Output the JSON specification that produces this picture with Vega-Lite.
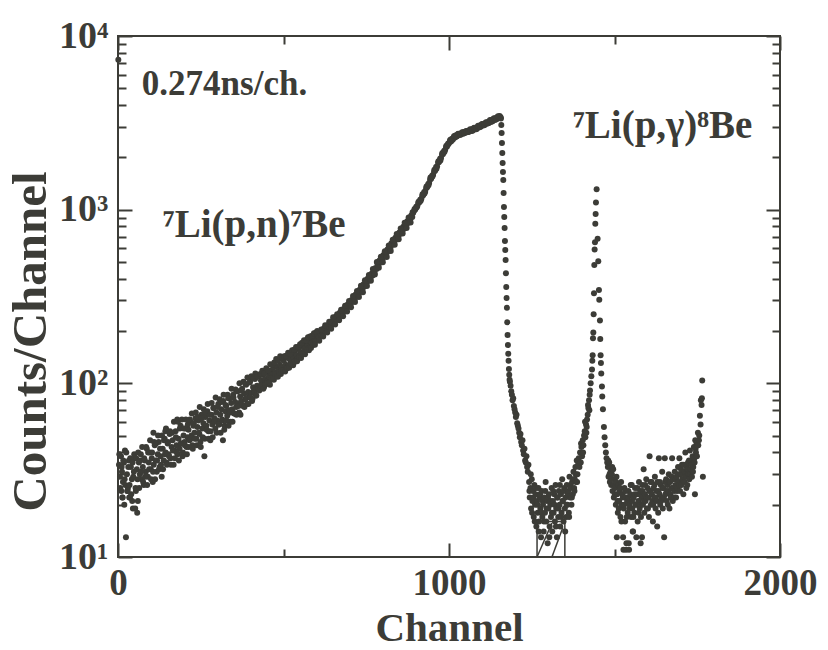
{
 "$schema": "https://vega.github.io/schema/vega-lite/v6.json",
 "width": 662, "height": 521,
 "autosize": {"type": "none"},
 "padding": {"left": 118, "top": 36, "right": 48, "bottom": 93},
 "background": "white",
 "config": {
  "view": {"stroke": "#3c3c37", "strokeWidth": 2},
  "axis": {"domain": false, "grid": false, "ticks": true, "tickColor": "#3c3c37", "tickWidth": 2,
   "labelFont": "Liberation Serif", "labelFontWeight": "bold", "labelColor": "#3c3c37",
   "titleFont": "Liberation Serif", "titleFontWeight": "bold", "titleColor": "#3c3c37",
   "labelOverlap": false, "labelFlush": false, "labelBound": false}
 },
 "resolve": {"axis": {"x": "independent", "y": "independent"}},
 "layer": [
  {
   "data": {"values": [
{"c":1,"n":7300},{"c":3,"n":34},{"c":6,"n":29},{"c":9,"n":38},{"c":10,"n":24},{"c":12,"n":31},{"c":14,"n":22},{"c":15,"n":27},{"c":18,"n":35},{"c":19,"n":20},{"c":21,"n":41},{"c":22,"n":26},{"c":24,"n":13},{"c":27,"n":30},{"c":28,"n":24},{"c":30,"n":25},{"c":33,"n":36},{"c":34,"n":22},{"c":36,"n":22},{"c":39,"n":33},{"c":42,"n":28},{"c":43,"n":21},{"c":45,"n":19},{"c":48,"n":31},{"c":51,"n":37},{"c":52,"n":19},{"c":54,"n":24},{"c":57,"n":32},{"c":58,"n":18},{"c":60,"n":21},{"c":63,"n":35},{"c":66,"n":30},{"c":69,"n":39},{"c":72,"n":28},{"c":75,"n":33},{"c":78,"n":26},{"c":81,"n":36},{"c":84,"n":31},{"c":87,"n":42},{"c":90,"n":29},{"c":93,"n":35},{"c":96,"n":40},{"c":99,"n":32},{"c":102,"n":37},{"c":105,"n":27},{"c":107,"n":52},{"c":108,"n":34},{"c":111,"n":44},{"c":114,"n":36},{"c":117,"n":31},{"c":120,"n":39},{"c":123,"n":46},{"c":126,"n":33},{"c":129,"n":38},{"c":132,"n":29},{"c":135,"n":42},{"c":138,"n":36},{"c":141,"n":48},{"c":143,"n":53},{"c":144,"n":40},{"c":147,"n":35},{"c":150,"n":45},{"c":153,"n":39},{"c":156,"n":51},{"c":159,"n":37},{"c":162,"n":43},{"c":165,"n":47},{"c":168,"n":34},{"c":171,"n":41},{"c":174,"n":53},{"c":177,"n":44},{"c":179,"n":62},{"c":180,"n":39},{"c":183,"n":48},{"c":186,"n":42},{"c":189,"n":57},{"c":192,"n":45},{"c":195,"n":38},{"c":198,"n":50},{"c":201,"n":46},{"c":204,"n":55},{"c":207,"n":43},{"c":210,"n":49},
{"c":4,"n":39},{"c":7,"n":25},{"c":11,"n":33},{"c":13,"n":22},{"c":16,"n":36},{"c":20,"n":28},{"c":25,"n":40},{"c":29,"n":24},{"c":31,"n":33},{"c":35,"n":26},{"c":37,"n":37},{"c":40,"n":23},{"c":44,"n":35},{"c":46,"n":29},{"c":49,"n":39},{"c":53,"n":25},{"c":55,"n":37},{"c":59,"n":28},{"c":61,"n":40},{"c":64,"n":25},{"c":67,"n":36},{"c":70,"n":31},{"c":73,"n":43},{"c":76,"n":27},{"c":79,"n":37},{"c":82,"n":29},{"c":85,"n":43},{"c":88,"n":26},{"c":91,"n":40},{"c":94,"n":32},{"c":97,"n":47},{"c":100,"n":28},{"c":103,"n":40},{"c":106,"n":31},{"c":109,"n":46},{"c":112,"n":28},{"c":115,"n":45},{"c":118,"n":36},{"c":121,"n":50},{"c":124,"n":32},{"c":127,"n":42},{"c":130,"n":34},{"c":133,"n":50},{"c":136,"n":32},{"c":139,"n":47},{"c":142,"n":39},{"c":145,"n":55},{"c":148,"n":34},{"c":151,"n":46},{"c":154,"n":38},{"c":157,"n":53},{"c":160,"n":34},{"c":163,"n":52},{"c":166,"n":41},{"c":169,"n":60},{"c":172,"n":37},{"c":175,"n":49},{"c":178,"n":40},{"c":181,"n":60},{"c":184,"n":36},{"c":187,"n":55},{"c":190,"n":45},{"c":193,"n":62},{"c":196,"n":40},{"c":199,"n":55},{"c":202,"n":44},{"c":205,"n":62},{"c":208,"n":39},{"c":211,"n":58},
{"c":213,"n":54},{"c":216,"n":47},{"c":219,"n":60},{"c":222,"n":50},{"c":225,"n":44},{"c":228,"n":57},{"c":231,"n":52},{"c":234,"n":63},{"c":237,"n":48},{"c":240,"n":56},{"c":243,"n":61},{"c":246,"n":51},{"c":249,"n":46},{"c":252,"n":66},{"c":255,"n":55},{"c":258,"n":59},{"c":261,"n":38},{"c":264,"n":64},{"c":267,"n":57},{"c":270,"n":69},{"c":273,"n":53},{"c":276,"n":61},{"c":279,"n":47},{"c":282,"n":66},{"c":285,"n":58},{"c":288,"n":72},{"c":291,"n":63},{"c":294,"n":55},{"c":297,"n":68},{"c":300,"n":61},{"c":303,"n":76},{"c":306,"n":58},{"c":309,"n":66},{"c":312,"n":71},{"c":315,"n":62},{"c":317,"n":47},{"c":318,"n":79},{"c":321,"n":54},{"c":324,"n":69},{"c":327,"n":74},{"c":330,"n":65},{"c":333,"n":82},{"c":336,"n":70},{"c":339,"n":60},{"c":342,"n":77},{"c":345,"n":71},{"c":348,"n":86},{"c":351,"n":67},{"c":354,"n":78},{"c":357,"n":73},{"c":360,"n":90},{"c":363,"n":76},{"c":366,"n":68},{"c":369,"n":84},{"c":372,"n":79},{"c":375,"n":93},{"c":378,"n":74},{"c":381,"n":87},{"c":384,"n":81},{"c":387,"n":98},{"c":390,"n":76},{"c":393,"n":89},{"c":396,"n":84},{"c":399,"n":102},{"c":402,"n":88},{"c":405,"n":79},{"c":408,"n":95},{"c":411,"n":91},{"c":414,"n":106},{"c":417,"n":85},{"c":420,"n":97},{"c":423,"n":93},{"c":426,"n":110},
{"c":214,"n":43},{"c":217,"n":62},{"c":220,"n":48},{"c":223,"n":67},{"c":226,"n":42},{"c":229,"n":59},{"c":232,"n":48},{"c":235,"n":68},{"c":238,"n":44},{"c":241,"n":64},{"c":244,"n":52},{"c":247,"n":73},{"c":250,"n":43},{"c":253,"n":63},{"c":256,"n":49},{"c":259,"n":71},{"c":262,"n":48},{"c":265,"n":68},{"c":268,"n":54},{"c":271,"n":76},{"c":274,"n":48},{"c":277,"n":66},{"c":280,"n":53},{"c":283,"n":77},{"c":286,"n":49},{"c":289,"n":72},{"c":292,"n":60},{"c":295,"n":83},{"c":298,"n":52},{"c":301,"n":73},{"c":304,"n":58},{"c":307,"n":81},{"c":310,"n":52},{"c":313,"n":78},{"c":316,"n":61},{"c":319,"n":86},{"c":322,"n":57},{"c":325,"n":75},{"c":328,"n":61},{"c":331,"n":86},{"c":334,"n":57},{"c":337,"n":82},{"c":340,"n":68},{"c":343,"n":93},{"c":346,"n":60},{"c":349,"n":83},{"c":352,"n":67},{"c":355,"n":92},{"c":358,"n":66},{"c":361,"n":90},{"c":364,"n":74},{"c":367,"n":100},{"c":370,"n":66},{"c":373,"n":91},{"c":376,"n":75},{"c":379,"n":102},{"c":382,"n":73},{"c":385,"n":99},{"c":388,"n":82},{"c":391,"n":108},{"c":394,"n":76},{"c":397,"n":101},{"c":400,"n":83},{"c":403,"n":110},{"c":406,"n":81},{"c":409,"n":107},{"c":412,"n":88},{"c":415,"n":114},{"c":418,"n":85},{"c":421,"n":109},{"c":424,"n":93},
{"c":429,"n":96},{"c":432,"n":104},{"c":435,"n":99},{"c":438,"n":112},{"c":441,"n":95},{"c":444,"n":106},{"c":447,"n":101},{"c":450,"n":117},{"c":453,"n":103},{"c":456,"n":110},{"c":459,"n":98},{"c":462,"n":114},{"c":465,"n":108},{"c":468,"n":121},{"c":471,"n":105},{"c":474,"n":116},{"c":477,"n":111},{"c":480,"n":125},{"c":483,"n":109},{"c":486,"n":119},{"c":489,"n":128},{"c":492,"n":113},{"c":495,"n":124},{"c":498,"n":118},{"c":501,"n":135},{"c":504,"n":120},{"c":507,"n":128},{"c":510,"n":123},{"c":513,"n":141},{"c":516,"n":126},{"c":519,"n":137},{"c":522,"n":131},{"c":525,"n":146},{"c":528,"n":129},{"c":531,"n":140},{"c":534,"n":150},{"c":537,"n":136},{"c":540,"n":145},{"c":543,"n":139},{"c":546,"n":157},{"c":549,"n":143},{"c":552,"n":151},{"c":555,"n":147},{"c":558,"n":163},{"c":561,"n":150},{"c":564,"n":158},{"c":567,"n":171},{"c":570,"n":155},{"c":573,"n":165},{"c":576,"n":160},{"c":579,"n":176},{"c":582,"n":163},{"c":585,"n":171},{"c":588,"n":182},{"c":591,"n":168},{"c":594,"n":180},{"c":597,"n":175},{"c":600,"n":191},
{"c":427,"n":91},{"c":430,"n":113},{"c":433,"n":97},{"c":436,"n":118},{"c":439,"n":93},{"c":442,"n":114},{"c":445,"n":98},{"c":448,"n":122},{"c":451,"n":100},{"c":454,"n":119},{"c":457,"n":101},{"c":460,"n":129},{"c":463,"n":107},{"c":466,"n":128},{"c":469,"n":107},{"c":472,"n":132},{"c":475,"n":113},{"c":478,"n":138},{"c":481,"n":110},{"c":484,"n":136},{"c":487,"n":116},{"c":490,"n":143},{"c":493,"n":118},{"c":496,"n":141},{"c":499,"n":119},{"c":502,"n":143},{"c":505,"n":117},{"c":508,"n":144},{"c":511,"n":122},{"c":514,"n":150},{"c":517,"n":123},{"c":520,"n":148},{"c":523,"n":129},{"c":526,"n":155},{"c":529,"n":127},{"c":532,"n":156},{"c":535,"n":133},{"c":538,"n":162},{"c":541,"n":134},{"c":544,"n":162},{"c":547,"n":142},{"c":550,"n":168},{"c":553,"n":140},{"c":556,"n":171},{"c":559,"n":147},{"c":562,"n":177},{"c":565,"n":147},{"c":568,"n":177},{"c":571,"n":155},{"c":574,"n":184},{"c":577,"n":155},{"c":580,"n":186},{"c":583,"n":160},{"c":586,"n":188},{"c":589,"n":166},{"c":592,"n":194},{"c":595,"n":167},{"c":598,"n":196},
{"c":604,"n":190},{"c":607,"n":184},{"c":610,"n":196},{"c":613,"n":192},{"c":616,"n":201},{"c":619,"n":195},{"c":622,"n":207},{"c":625,"n":200},{"c":628,"n":212},{"c":631,"n":205},{"c":634,"n":216},{"c":637,"n":210},{"c":640,"n":223},{"c":643,"n":215},{"c":646,"n":228},{"c":649,"n":220},{"c":652,"n":235},{"c":655,"n":227},{"c":658,"n":242},{"c":661,"n":233},{"c":664,"n":246},{"c":667,"n":240},{"c":670,"n":255},{"c":673,"n":247},{"c":676,"n":262},{"c":679,"n":254},{"c":682,"n":268},{"c":685,"n":260},{"c":688,"n":277},{"c":691,"n":270},{"c":694,"n":284},{"c":697,"n":278},{"c":700,"n":294},{"c":703,"n":286},{"c":706,"n":302},{"c":709,"n":296},{"c":712,"n":314},{"c":715,"n":305},{"c":718,"n":325},{"c":721,"n":316},{"c":724,"n":334},{"c":727,"n":327},{"c":730,"n":346},{"c":733,"n":338},{"c":736,"n":358},{"c":739,"n":350},{"c":742,"n":372},{"c":745,"n":362},{"c":748,"n":386},{"c":751,"n":378},{"c":754,"n":400},{"c":757,"n":390},{"c":760,"n":413},{"c":763,"n":404},{"c":766,"n":428},{"c":769,"n":418},{"c":772,"n":442},{"c":775,"n":433},{"c":778,"n":462},{"c":781,"n":455},{"c":784,"n":488},{"c":787,"n":478},{"c":790,"n":510},{"c":793,"n":500},{"c":796,"n":524},{"c":799,"n":515},{"c":802,"n":548},{"c":805,"n":538},{"c":808,"n":568},{"c":811,"n":558},{"c":814,"n":590},{"c":817,"n":578},{"c":820,"n":615},{"c":823,"n":602},{"c":826,"n":640},{"c":829,"n":628},{"c":832,"n":665},{"c":835,"n":652},{"c":838,"n":690},{"c":841,"n":676},{"c":844,"n":712},{"c":847,"n":698},{"c":850,"n":740},{"c":853,"n":726},{"c":856,"n":768},{"c":859,"n":752},{"c":862,"n":796},{"c":865,"n":780},{"c":868,"n":826},{"c":871,"n":812},{"c":874,"n":858},{"c":877,"n":842},{"c":880,"n":890},{"c":883,"n":875},{"c":886,"n":925},{"c":889,"n":908},{"c":892,"n":960},
{"c":602,"n":200},{"c":608,"n":176},{"c":614,"n":204},{"c":620,"n":186},{"c":626,"n":216},{"c":632,"n":196},{"c":638,"n":226},{"c":644,"n":206},{"c":650,"n":240},{"c":656,"n":218},{"c":662,"n":250},{"c":668,"n":231},{"c":674,"n":265},{"c":680,"n":243},{"c":686,"n":280},{"c":692,"n":259},{"c":698,"n":298},{"c":704,"n":274},{"c":710,"n":318},{"c":716,"n":294},{"c":722,"n":340},{"c":728,"n":314},{"c":734,"n":365},{"c":740,"n":335},{"c":746,"n":392},{"c":752,"n":363},{"c":758,"n":421},{"c":764,"n":390},{"c":770,"n":455},{"c":776,"n":423},{"c":782,"n":499},{"c":788,"n":463},{"c":794,"n":535},{"c":800,"n":498},{"c":806,"n":577},{"c":812,"n":534},{"c":818,"n":622},{"c":824,"n":578},{"c":830,"n":672},{"c":836,"n":627},{"c":842,"n":725},{"c":848,"n":676},{"c":854,"n":779},{"c":860,"n":730},{"c":866,"n":840},{"c":872,"n":784},{"c":878,"n":900},{"c":884,"n":843},{"c":890,"n":965},
{"c":895,"n":990},{"c":898,"n":1002},{"c":901,"n":1040},{"c":904,"n":1045},{"c":907,"n":1088},{"c":910,"n":1098},{"c":913,"n":1140},{"c":916,"n":1150},{"c":919,"n":1195},{"c":922,"n":1210},{"c":925,"n":1262},{"c":928,"n":1270},{"c":931,"n":1330},{"c":934,"n":1345},{"c":937,"n":1402},{"c":940,"n":1425},{"c":943,"n":1490},{"c":946,"n":1505},{"c":949,"n":1570},{"c":952,"n":1590},{"c":955,"n":1660},{"c":958,"n":1675},{"c":961,"n":1760},{"c":964,"n":1775},{"c":967,"n":1860},{"c":970,"n":1880},{"c":973,"n":1965},{"c":976,"n":1985},{"c":979,"n":2075},{"c":982,"n":2090},{"c":985,"n":2180},{"c":988,"n":2200},{"c":991,"n":2290},{"c":994,"n":2310},{"c":997,"n":2400},{"c":1000,"n":2420},{"c":1003,"n":2490},{"c":1006,"n":2470},{"c":1009,"n":2560},{"c":1012,"n":2540},{"c":1015,"n":2630},{"c":1018,"n":2600},{"c":1021,"n":2680},{"c":1024,"n":2650},{"c":1027,"n":2720},{"c":1030,"n":2690},{"c":1033,"n":2740},{"c":1036,"n":2710},{"c":1039,"n":2770},{"c":1042,"n":2740},{"c":1045,"n":2800},{"c":1048,"n":2770},{"c":1051,"n":2820},{"c":1054,"n":2790},{"c":1057,"n":2850},{"c":1060,"n":2810},{"c":1063,"n":2870},{"c":1066,"n":2840},{"c":1069,"n":2900},{"c":1072,"n":2860},{"c":1075,"n":2930},{"c":1078,"n":2900},{"c":1081,"n":2960},{"c":1084,"n":2920},{"c":1087,"n":3000},{"c":1090,"n":2970},{"c":1093,"n":3050},{"c":1096,"n":3010},{"c":1099,"n":3090},{"c":1102,"n":3050},{"c":1105,"n":3120},{"c":1108,"n":3080},{"c":1111,"n":3160},{"c":1114,"n":3120},{"c":1117,"n":3200},{"c":1120,"n":3160},{"c":1123,"n":3240},{"c":1126,"n":3200},{"c":1129,"n":3290},{"c":1132,"n":3240},{"c":1135,"n":3330},{"c":1138,"n":3280},{"c":1141,"n":3370},{"c":1144,"n":3330},{"c":1147,"n":3420},{"c":1150,"n":3380},{"c":1153,"n":3460},{"c":1156,"n":3400},
{"c":896,"n":1010},{"c":902,"n":1030},{"c":908,"n":1110},{"c":914,"n":1120},{"c":920,"n":1225},{"c":926,"n":1240},{"c":932,"n":1360},{"c":938,"n":1380},{"c":944,"n":1530},{"c":950,"n":1550},{"c":956,"n":1700},{"c":962,"n":1720},{"c":968,"n":1900},{"c":974,"n":1920},{"c":980,"n":2120},{"c":986,"n":2150},{"c":992,"n":2330},{"c":998,"n":2380},{"c":1004,"n":2530},{"c":1010,"n":2520},{"c":1016,"n":2660},{"c":1022,"n":2640},{"c":1028,"n":2740},{"c":1034,"n":2700},{"c":1040,"n":2790},{"c":1046,"n":2750},{"c":1052,"n":2840},{"c":1058,"n":2800},{"c":1064,"n":2900},{"c":1070,"n":2850},{"c":1076,"n":2960},{"c":1082,"n":2900},{"c":1088,"n":3040},{"c":1094,"n":2990},{"c":1100,"n":3110},{"c":1106,"n":3060},{"c":1112,"n":3190},{"c":1118,"n":3140},{"c":1124,"n":3280},{"c":1130,"n":3220},{"c":1136,"n":3360},{"c":1142,"n":3300},{"c":1148,"n":3450},
{"c":1157,"n":3350},{"c":1158,"n":3076},{"c":1159,"n":2760},{"c":1160,"n":2420},{"c":1161,"n":2120},{"c":1162,"n":1857},{"c":1163,"n":1648},{"c":1164,"n":1482},{"c":1165,"n":1248},{"c":1166,"n":1035},{"c":1167,"n":907},{"c":1168,"n":784},{"c":1169,"n":660},{"c":1170,"n":586},{"c":1171,"n":513},{"c":1172,"n":430},{"c":1173,"n":359},{"c":1174,"n":310},{"c":1175,"n":272},{"c":1176,"n":225},{"c":1177,"n":190},{"c":1178,"n":166},{"c":1179,"n":148},{"c":1180,"n":135},{"c":1181,"n":121},{"c":1182,"n":112},{"c":1183,"n":105},
{"c":1184,"n":102},{"c":1186,"n":97},{"c":1188,"n":90},{"c":1190,"n":86},{"c":1192,"n":80},{"c":1194,"n":82},{"c":1196,"n":74},{"c":1198,"n":71},{"c":1200,"n":68},{"c":1202,"n":64},{"c":1204,"n":66},{"c":1206,"n":59},{"c":1208,"n":57},{"c":1210,"n":55},{"c":1212,"n":52},{"c":1214,"n":49},{"c":1216,"n":51},{"c":1218,"n":46},{"c":1220,"n":44},{"c":1222,"n":47},{"c":1224,"n":41},{"c":1226,"n":39},{"c":1228,"n":42},{"c":1230,"n":36},{"c":1232,"n":35},{"c":1234,"n":38},{"c":1236,"n":33},{"c":1238,"n":31},{"c":1240,"n":34},
{"c":1242,"n":27},{"c":1243,"n":24},{"c":1244,"n":22},{"c":1246,"n":25},{"c":1247,"n":30},{"c":1248,"n":19},{"c":1250,"n":28},{"c":1251,"n":18},{"c":1252,"n":21},{"c":1254,"n":24},{"c":1255,"n":22},{"c":1256,"n":17},{"c":1258,"n":26},{"c":1259,"n":16},{"c":1260,"n":20},{"c":1262,"n":23},{"c":1263,"n":25},{"c":1264,"n":15},{"c":1266,"n":21},{"c":1267,"n":20},{"c":1268,"n":18},{"c":1270,"n":25},{"c":1271,"n":14},{"c":1272,"n":16},{"c":1274,"n":22},{"c":1275,"n":23},{"c":1276,"n":19},{"c":1278,"n":13},{"c":1279,"n":18},{"c":1280,"n":24},{"c":1282,"n":17},{"c":1283,"n":21},{"c":1284,"n":20},{"c":1286,"n":14},{"c":1287,"n":16},{"c":1288,"n":22},{"c":1290,"n":18},{"c":1291,"n":24},{"c":1292,"n":27},{"c":1294,"n":16},{"c":1295,"n":19},{"c":1296,"n":21},{"c":1298,"n":12},{"c":1299,"n":22},{"c":1300,"n":19},{"c":1302,"n":23},{"c":1303,"n":13},{"c":1304,"n":15},{"c":1306,"n":20},{"c":1307,"n":21},{"c":1308,"n":17},{"c":1310,"n":25},{"c":1311,"n":18},{"c":1312,"n":14},{"c":1314,"n":21},{"c":1315,"n":24},{"c":1316,"n":18},{"c":1318,"n":23},{"c":1319,"n":20},{"c":1320,"n":16},{"c":1322,"n":26},{"c":1323,"n":15},{"c":1324,"n":19},{"c":1326,"n":13},{"c":1327,"n":22},{"c":1328,"n":22},{"c":1330,"n":17},{"c":1331,"n":19},{"c":1332,"n":24},{"c":1334,"n":20},{"c":1335,"n":26},{"c":1336,"n":15},{"c":1338,"n":23},{"c":1339,"n":17},{"c":1340,"n":18},{"c":1342,"n":28},{"c":1343,"n":21},{"c":1344,"n":21},{"c":1346,"n":16},{"c":1347,"n":24},{"c":1348,"n":25},{"c":1350,"n":19},{"c":1351,"n":14},{"c":1352,"n":22},{"c":1354,"n":17},{"c":1355,"n":20},{"c":1356,"n":26},{"c":1358,"n":20},{"c":1359,"n":23},{"c":1360,"n":24},{"c":1362,"n":18},{"c":1363,"n":17},{"c":1364,"n":29},{"c":1366,"n":22},{"c":1367,"n":26},{"c":1368,"n":25},{"c":1370,"n":20},{"c":1371,"n":22},{"c":1372,"n":27},{"c":1374,"n":23},{"c":1375,"n":28},{"c":1376,"n":31},{"c":1378,"n":25},{"c":1379,"n":24},{"c":1380,"n":28},{"c":1382,"n":33},{"c":1383,"n":30},{"c":1384,"n":27},{"c":1386,"n":36},{"c":1387,"n":27},{"c":1388,"n":30},{"c":1390,"n":34},
{"c":1392,"n":37},{"c":1394,"n":33},{"c":1396,"n":40},{"c":1398,"n":35},{"c":1399,"n":45},{"c":1400,"n":43},{"c":1402,"n":38},{"c":1404,"n":47},{"c":1405,"n":40},{"c":1406,"n":44},{"c":1408,"n":50},{"c":1410,"n":53},{"c":1411,"n":60},{"c":1412,"n":49},{"c":1414,"n":58},{"c":1415,"n":52},{"c":1416,"n":56},{"c":1417,"n":62},{"c":1419,"n":66},{"c":1420,"n":75},{"c":1421,"n":72},{"c":1423,"n":80},{"c":1424,"n":70},{"c":1425,"n":86},{"c":1426,"n":91},{"c":1428,"n":100},{"c":1430,"n":110},{"c":1432,"n":120},{"c":1433,"n":135},{"c":1434,"n":145},{"c":1435,"n":182},{"c":1436,"n":196},{"c":1437,"n":250},{"c":1438,"n":330},{"c":1439,"n":480},{"c":1440,"n":590},{"c":1441,"n":650},{"c":1442,"n":830},{"c":1443,"n":945},{"c":1444,"n":1100},{"c":1446,"n":1310},
{"c":1449,"n":680},{"c":1451,"n":505},{"c":1453,"n":345},{"c":1454,"n":303},{"c":1456,"n":230},{"c":1457,"n":180},{"c":1458,"n":145},{"c":1459,"n":131},{"c":1460,"n":114},{"c":1462,"n":96},{"c":1463,"n":84},{"c":1465,"n":71},{"c":1468,"n":56},{"c":1470,"n":49},{"c":1472,"n":44},{"c":1474,"n":40},{"c":1476,"n":37},{"c":1478,"n":35},
{"c":1480,"n":33},{"c":1481,"n":36},{"c":1482,"n":29},{"c":1484,"n":35},{"c":1485,"n":30},{"c":1486,"n":27},{"c":1488,"n":31},{"c":1489,"n":28},{"c":1490,"n":26},{"c":1492,"n":30},{"c":1493,"n":33},{"c":1494,"n":24},{"c":1496,"n":32},{"c":1497,"n":26},{"c":1498,"n":22},{"c":1500,"n":28},{"c":1501,"n":23},{"c":1502,"n":25},{"c":1504,"n":20},{"c":1505,"n":27},{"c":1506,"n":29},{"c":1507,"n":13},{"c":1508,"n":23},{"c":1509,"n":21},{"c":1510,"n":18},{"c":1512,"n":26},{"c":1513,"n":19},{"c":1514,"n":21},{"c":1516,"n":24},{"c":1517,"n":25},{"c":1518,"n":17},{"c":1520,"n":27},{"c":1521,"n":16},{"c":1522,"n":20},{"c":1524,"n":23},{"c":1525,"n":22},{"c":1526,"n":13},{"c":1527,"n":11},{"c":1528,"n":19},{"c":1529,"n":20},{"c":1530,"n":25},{"c":1532,"n":16},{"c":1533,"n":24},{"c":1534,"n":22},{"c":1535,"n":11},{"c":1536,"n":12},{"c":1537,"n":17},{"c":1538,"n":21},{"c":1540,"n":18},{"c":1541,"n":22},{"c":1542,"n":24},{"c":1543,"n":12},{"c":1544,"n":11},{"c":1545,"n":19},{"c":1546,"n":20},{"c":1548,"n":23},{"c":1549,"n":26},{"c":1550,"n":17},{"c":1552,"n":26},{"c":1553,"n":21},{"c":1554,"n":19},{"c":1555,"n":14},{"c":1556,"n":14},{"c":1557,"n":17},{"c":1558,"n":22},{"c":1560,"n":18},{"c":1561,"n":23},{"c":1562,"n":25},{"c":1564,"n":20},{"c":1565,"n":20},{"c":1566,"n":13},{"c":1568,"n":23},{"c":1569,"n":25},{"c":1570,"n":16},{"c":1572,"n":21},{"c":1573,"n":18},{"c":1574,"n":27},{"c":1576,"n":19},{"c":1577,"n":23},{"c":1578,"n":24},{"c":1579,"n":12},{"c":1580,"n":17},{"c":1581,"n":20},{"c":1582,"n":22},{"c":1583,"n":13},{"c":1584,"n":26},{"c":1585,"n":24},{"c":1586,"n":20},{"c":1588,"n":32},{"c":1589,"n":21},{"c":1590,"n":18},{"c":1592,"n":23},{"c":1593,"n":26},{"c":1594,"n":21},{"c":1596,"n":28},{"c":1597,"n":22},{"c":1598,"n":19},{"c":1600,"n":25},{"c":1601,"n":19},{"c":1602,"n":22},{"c":1604,"n":17},{"c":1605,"n":24},{"c":1606,"n":38},{"c":1608,"n":24},{"c":1609,"n":27},{"c":1610,"n":20},{"c":1612,"n":27},{"c":1613,"n":23},{"c":1614,"n":21},{"c":1616,"n":16},{"c":1617,"n":20},{"c":1618,"n":25},{"c":1620,"n":22},{"c":1621,"n":26},{"c":1622,"n":29},{"c":1624,"n":19},{"c":1625,"n":22},{"c":1626,"n":24},{"c":1628,"n":21},{"c":1629,"n":15},{"c":1630,"n":27},{"c":1632,"n":18},{"c":1633,"n":24},{"c":1634,"n":37},{"c":1636,"n":23},{"c":1637,"n":27},{"c":1638,"n":20},{"c":1640,"n":26},{"c":1641,"n":21},{"c":1642,"n":22},{"c":1644,"n":31},{"c":1645,"n":25},{"c":1646,"n":19},{"c":1648,"n":25},{"c":1649,"n":22},{"c":1650,"n":13},{"c":1652,"n":37},{"c":1653,"n":27},{"c":1654,"n":23},{"c":1656,"n":28},{"c":1657,"n":24},{"c":1658,"n":21},{"c":1660,"n":26},{"c":1661,"n":20},{"c":1662,"n":24},{"c":1664,"n":30},{"c":1665,"n":27},{"c":1666,"n":19},{"c":1668,"n":27},{"c":1669,"n":23},{"c":1670,"n":22},{"c":1672,"n":25},{"c":1673,"n":29},{"c":1674,"n":37},{"c":1676,"n":21},{"c":1677,"n":25},{"c":1678,"n":28},{"c":1680,"n":24},{"c":1681,"n":22},{"c":1682,"n":31},{"c":1684,"n":26},{"c":1685,"n":28},{"c":1686,"n":22},{"c":1688,"n":29},{"c":1689,"n":24},{"c":1690,"n":25},{"c":1692,"n":33},{"c":1693,"n":30},{"c":1694,"n":27},{"c":1696,"n":37},{"c":1697,"n":26},{"c":1698,"n":24},{"c":1700,"n":30},{"c":1701,"n":32},{"c":1702,"n":26},{"c":1704,"n":34},{"c":1705,"n":28},{"c":1706,"n":28},{"c":1708,"n":23},{"c":1709,"n":34},{"c":1710,"n":31},{"c":1712,"n":27},{"c":1713,"n":30},{"c":1714,"n":40},{"c":1716,"n":29},{"c":1717,"n":25},{"c":1718,"n":33},{"c":1720,"n":26},{"c":1721,"n":32},{"c":1722,"n":35},{"c":1724,"n":30},{"c":1725,"n":36},{"c":1726,"n":28},{"c":1728,"n":41},{"c":1729,"n":30},{"c":1730,"n":32},{"c":1732,"n":36},{"c":1733,"n":34},{"c":1734,"n":29},{"c":1736,"n":38},{"c":1737,"n":31},{"c":1738,"n":33},{"c":1740,"n":43},{"c":1741,"n":37},{"c":1742,"n":35},{"c":1743,"n":23},{"c":1744,"n":47},{"c":1745,"n":42},{"c":1746,"n":40},{"c":1748,"n":45},{"c":1749,"n":38},{"c":1750,"n":44},{"c":1752,"n":52},{"c":1753,"n":44},{"c":1755,"n":47},{"c":1756,"n":50},{"c":1758,"n":65},{"c":1760,"n":58},{"c":1761,"n":80},{"c":1763,"n":75},{"c":1764,"n":82},{"c":1765,"n":104},{"c":1767,"n":29}
   ]},
   "mark": {"type": "circle", "size": 36, "color": "#3c3c37", "opacity": 1},
   "encoding": {
    "x": {"field": "c", "type": "quantitative", "scale": {"domain": [0, 2000], "nice": false, "zero": false},
     "axis": {"orient": "bottom", "values": [0, 1000, 2000], "format": "d", "tickSize": -14, "labelFontSize": 37, "labelPadding": 22, "title": "Channel", "titleFontSize": 41, "titleY": 83, "titleBaseline": "alphabetic"}},
    "y": {"field": "n", "type": "quantitative", "scale": {"type": "log", "domain": [10, 10000], "nice": false},
     "axis": {"orient": "left", "values": [10, 100, 1000, 10000], "tickSize": -14, "labelFontSize": 38, "labelPadding": 24,
      "labelExpr": "datum.value == 10 ? '10¹' : datum.value == 100 ? '10²' : datum.value == 1000 ? '10³' : '10⁴'",
      "title": "Counts/Channel", "titleFontSize": 49, "titleX": -73, "titleY": 305, "titleBaseline": "alphabetic"}}
   }
  },
  {
   "data": {"values": [{"c": 1266, "c2": 1350, "n": 10, "n2": 16}]},
   "mark": {"type": "rect", "fill": null, "fillOpacity": 0, "stroke": "#3c3c37", "strokeWidth": 1.5},
   "encoding": {
    "x": {"field": "c", "type": "quantitative", "scale": {"domain": [0, 2000], "nice": false, "zero": false},
     "axis": {"orient": "bottom", "values": [500, 1500], "tickSize": -8, "labels": false, "title": null}},
    "x2": {"field": "c2"},
    "y": {"field": "n", "type": "quantitative", "scale": {"type": "log", "domain": [10, 10000], "nice": false},
     "axis": {"orient": "left", "values": [20,30,40,50,60,70,80,90,200,300,400,500,600,700,800,900,2000,3000,4000,5000,6000,7000,8000,9000], "tickSize": -8, "labels": false, "title": null}},
    "y2": {"field": "n2"}
   }
  },
  {
   "data": {"values": [{"c": 1266, "n": 10, "c2": 1311, "n2": 15.7}, {"c": 1311, "n": 10, "c2": 1344, "n2": 14.8}]},
   "mark": {"type": "rule", "stroke": "#3c3c37", "strokeWidth": 1.5},
   "encoding": {
    "x": {"field": "c", "type": "quantitative", "scale": {"domain": [0, 2000], "nice": false, "zero": false},
     "axis": {"orient": "top", "values": [0, 1000, 2000], "tickSize": -14, "labels": false, "title": null}},
    "x2": {"field": "c2"},
    "y": {"field": "n", "type": "quantitative", "scale": {"type": "log", "domain": [10, 10000], "nice": false},
     "axis": {"orient": "right", "values": [10, 100, 1000, 10000], "tickSize": -14, "labels": false, "title": null}},
    "y2": {"field": "n2"}
   }
  },
  {
   "data": {"values": [{"c": 72, "n": 4570, "t": "0.274ns/ch."}]},
   "mark": {"type": "text", "align": "left", "baseline": "alphabetic", "font": "Liberation Serif", "fontWeight": "bold", "fontSize": 35, "color": "#3c3c37"},
   "encoding": {
    "x": {"field": "c", "type": "quantitative", "scale": {"domain": [0, 2000], "nice": false, "zero": false},
     "axis": {"orient": "top", "values": [500, 1500], "tickSize": -8, "labels": false, "title": null}},
    "y": {"field": "n", "type": "quantitative", "scale": {"type": "log", "domain": [10, 10000], "nice": false},
     "axis": {"orient": "right", "values": [20,30,40,50,60,70,80,90,200,300,400,500,600,700,800,900,2000,3000,4000,5000,6000,7000,8000,9000], "tickSize": -8, "labels": false, "title": null}},
    "text": {"field": "t"}
   }
  },
  {
   "data": {"values": [{"c": 136, "n": 697, "t": "⁷Li(p,n)⁷Be"}, {"c": 1375, "n": 2588, "t": "⁷Li(p,γ)⁸Be"}]},
   "mark": {"type": "text", "align": "left", "baseline": "alphabetic", "font": "Liberation Serif", "fontWeight": "bold", "fontSize": 39, "color": "#3c3c37"},
   "encoding": {
    "x": {"field": "c", "type": "quantitative", "scale": {"domain": [0, 2000], "nice": false, "zero": false}, "axis": null},
    "y": {"field": "n", "type": "quantitative", "scale": {"type": "log", "domain": [10, 10000], "nice": false}, "axis": null},
    "text": {"field": "t"}
   }
  }
 ]
}
